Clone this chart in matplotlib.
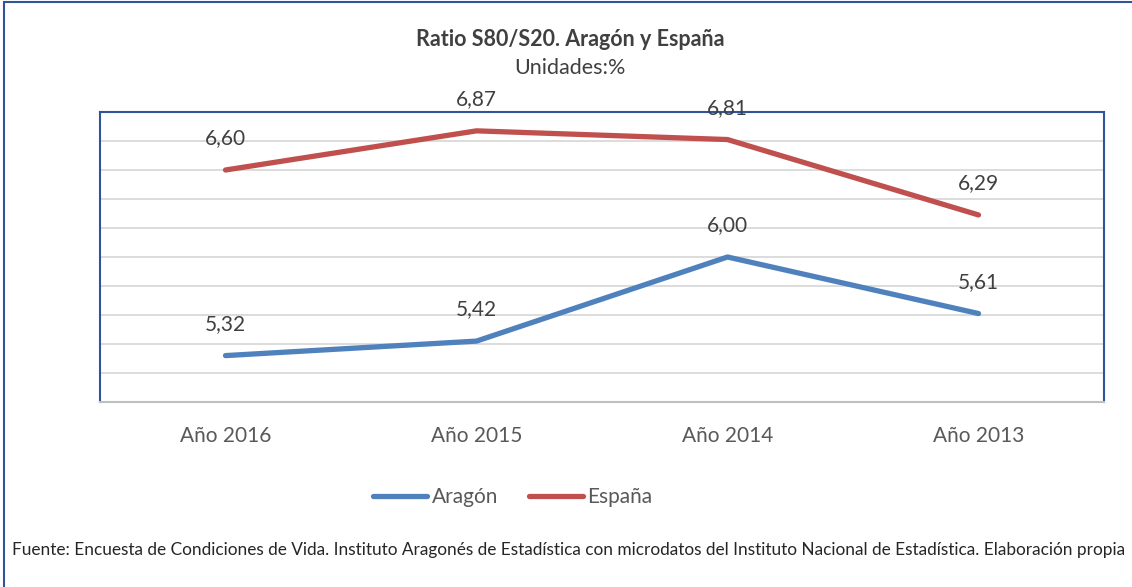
import matplotlib
matplotlib.use("Agg")
import matplotlib.pyplot as plt
from matplotlib.lines import Line2D
from matplotlib.patches import Rectangle

categories = ["Año 2016", "Año 2015", "Año 2014", "Año 2013"]
aragon = [5.32, 5.42, 6.00, 5.61]
espana = [6.60, 6.87, 6.81, 6.29]
series_names = ["Aragón", "España"]

W, H = 1132, 587
fig = plt.figure(figsize=(W / 100, H / 100), dpi=100)
FONT = "Lato"
TXT = "#404040"
BLUE = "#4F81BD"
RED = "#C0504D"
FRAME = "#2F5597"

# outer frame
fig.patches.append(Rectangle((4 / W, -0.1), 1.2, (H - 2) / H + 0.1, transform=fig.transFigure,
                             fill=False, edgecolor=FRAME, linewidth=1.5))

l, r, t, b = 100, 1104, 112, 402
ax = fig.add_axes([l / W, 1 - b / H, (r - l) / W, (b - t) / H])
x = list(range(len(categories)))
ax.plot(x, aragon, color=BLUE, lw=3.8, solid_capstyle="round", zorder=3)
ax.plot(x, espana, color=RED, lw=3.8, solid_capstyle="round", zorder=3)
ax.set_xlim(-0.5, len(categories) - 0.5)
ax.set_ylim(5.0, 7.0)
ax.set_yticks([5.0 + 0.2 * i for i in range(11)])
ax.yaxis.grid(True, color="#D9D9D9", lw=1.3)
ax.set_axisbelow(True)
ax.tick_params(axis="y", left=False, labelleft=False)
ax.tick_params(axis="x", bottom=False, pad=14)
ax.set_xticks(x)
ax.set_xticklabels(categories, fontsize=15, color="#595959", family=FONT)
for s in ["top", "left", "right"]:
    ax.spines[s].set_color(FRAME)
    ax.spines[s].set_linewidth(1.5)
ax.spines["bottom"].set_color("#BFBFBF")
ax.spines["bottom"].set_linewidth(1.5)

for xs, vals in ((x, aragon), (x, espana)):
    for xi, v in zip(xs, vals):
        ax.annotate(f"{v:.2f}".replace(".", ","), (xi, v), xytext=(0, 23), textcoords="offset points",
                    ha="center", va="center", fontsize=15, color=TXT, family=FONT)

fig.text(570 / W, 1 - 40 / H, "Ratio S80/S20. Aragón y España", ha="center", va="center",
         fontsize=15.5, fontweight="bold", color=TXT, family=FONT)
fig.text(570 / W, 1 - 68 / H, "Unidades:%", ha="center", va="center",
         fontsize=15.5, color=TXT, family=FONT)

handles = [Line2D([], [], color=BLUE, lw=3.8, solid_capstyle="round"),
           Line2D([], [], color=RED, lw=3.8, solid_capstyle="round")]
leg = fig.legend(handles, series_names, loc="center", bbox_to_anchor=(513 / W, 1 - 497 / H), ncol=2,
                 frameon=False, handlelength=2.6, handletextpad=0.2, columnspacing=1.5,
                 prop={"family": FONT, "size": 15})
for tx in leg.get_texts():
    tx.set_color("#595959")

fig.text(12 / W, 1 - 550 / H,
         "Fuente: Encuesta de Condiciones de Vida. Instituto Aragonés de Estadística con microdatos del Instituto Nacional de Estadística. Elaboración propia",
         ha="left", va="center", fontsize=12.4, color="#262626", family=FONT)

fig.savefig("out.png", dpi=100)
